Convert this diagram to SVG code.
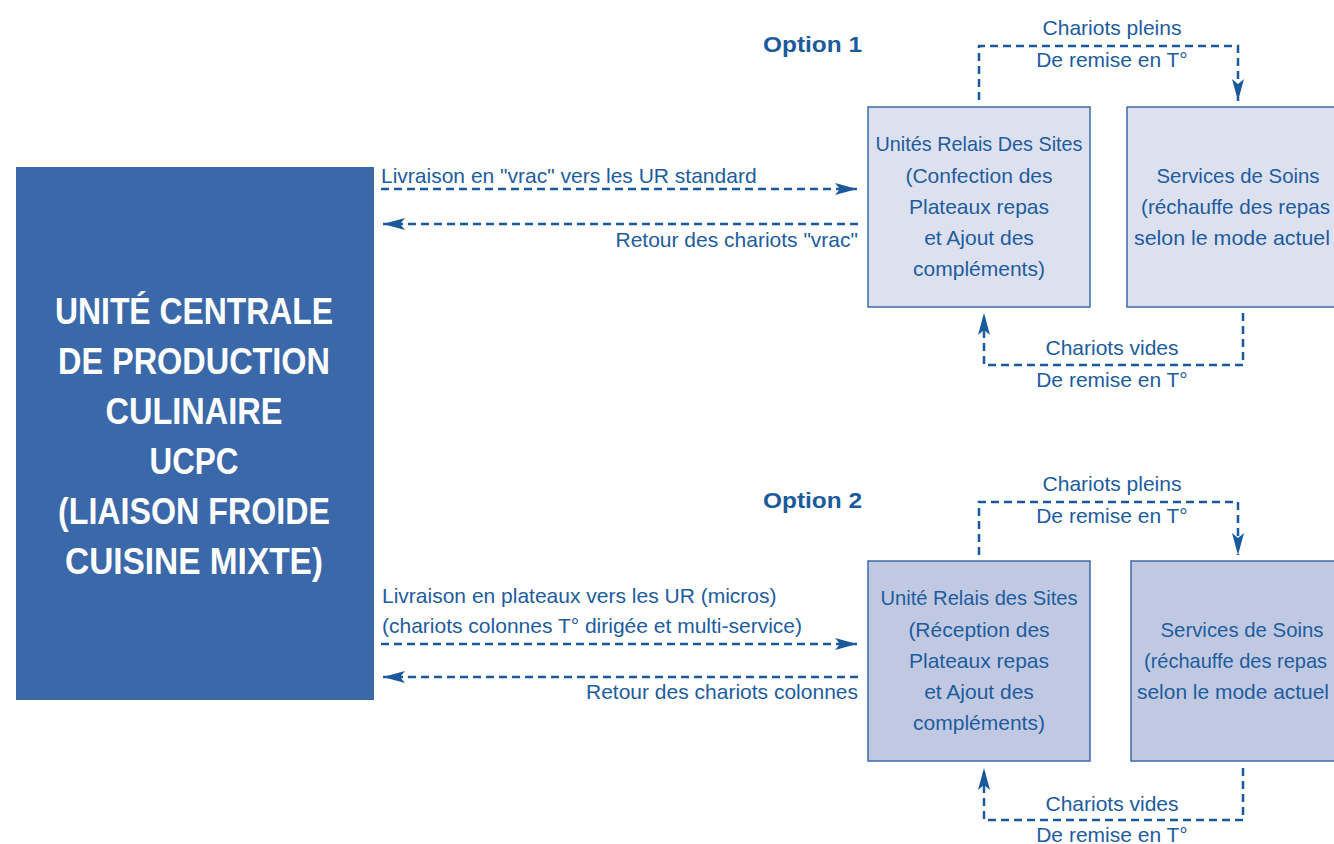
<svg xmlns="http://www.w3.org/2000/svg" width="1334" height="844" viewBox="0 0 1334 844">
<defs>
<marker id="ah" markerUnits="userSpaceOnUse" markerWidth="24" markerHeight="14" refX="22" refY="6" orient="auto">
<path d="M0,0 L22,6 L0,12 L5,6 Z" fill="#1a5a9c"/>
</marker>
<style>
.bg{fill:#ffffff}
.big{fill:#3a68a9}
.bt{font-family:"Liberation Sans",Arial,sans-serif;font-weight:bold;font-size:37px;fill:#ffffff;text-anchor:middle}
.b1{fill:#dde1ef;stroke:#3b6aa8;stroke-width:1.5}
.b2{fill:#c1c9e2;stroke:#3b6aa8;stroke-width:1.5}
.t{font-family:"Liberation Sans",Arial,sans-serif;font-size:21px;fill:#1d5c9e}
.c{text-anchor:middle}
.r{text-anchor:end}
.opt{font-family:"Liberation Sans",Arial,sans-serif;font-size:22px;font-weight:bold;fill:#1a5a9c}
.d{fill:none;stroke:#1a5a9c;stroke-width:2.5;stroke-dasharray:8 5}
.a{marker-end:url(#ah)}
</style>
</defs>
<rect class="bg" x="0" y="0" width="1334" height="844"/>

<g id="ucpc">
<rect class="big" x="16" y="167" width="358" height="533"/>
<text class="bt" x="194" y="324" textLength="278" lengthAdjust="spacingAndGlyphs">UNITÉ CENTRALE</text>
<text class="bt" x="194" y="374" textLength="272" lengthAdjust="spacingAndGlyphs">DE PRODUCTION</text>
<text class="bt" x="194" y="424" textLength="177" lengthAdjust="spacingAndGlyphs">CULINAIRE</text>
<text class="bt" x="194" y="474" textLength="89" lengthAdjust="spacingAndGlyphs">UCPC</text>
<text class="bt" x="194" y="524" textLength="272" lengthAdjust="spacingAndGlyphs">(LIAISON FROIDE</text>
<text class="bt" x="194" y="574" textLength="258" lengthAdjust="spacingAndGlyphs">CUISINE MIXTE)</text>
</g>

<g id="option1-label"><text class="opt" x="763" y="52" textLength="99" lengthAdjust="spacingAndGlyphs">Option 1</text></g>
<g id="option2-label"><text class="opt" x="763" y="508" textLength="99" lengthAdjust="spacingAndGlyphs">Option 2</text></g>

<g id="ur1">
<rect class="b1" x="868" y="107" width="222" height="200"/>
<text class="t c" x="979" y="151" textLength="207" lengthAdjust="spacingAndGlyphs">Unités Relais Des Sites</text>
<text class="t c" x="979" y="183">(Confection des</text>
<text class="t c" x="979" y="214">Plateaux repas</text>
<text class="t c" x="979" y="245">et Ajout des</text>
<text class="t c" x="979" y="276">compléments)</text>
</g>
<g id="soins1">
<rect class="b1" x="1127" y="107" width="222" height="200"/>
<text class="t c" x="1238" y="183" textLength="163" lengthAdjust="spacingAndGlyphs">Services de Soins</text>
<text class="t" x="1141" y="214" textLength="189" lengthAdjust="spacingAndGlyphs">(réchauffe des repas</text>
<text class="t" x="1134" y="245" textLength="196" lengthAdjust="spacingAndGlyphs">selon le mode actuel</text>
</g>
<g id="ur2">
<rect class="b2" x="868" y="561" width="222" height="200"/>
<text class="t c" x="979" y="605" textLength="197" lengthAdjust="spacingAndGlyphs">Unité Relais des Sites</text>
<text class="t c" x="979" y="637">(Réception des</text>
<text class="t c" x="979" y="668">Plateaux repas</text>
<text class="t c" x="979" y="699">et Ajout des</text>
<text class="t c" x="979" y="730">compléments)</text>
</g>
<g id="soins2">
<rect class="b2" x="1131" y="561" width="222" height="200"/>
<text class="t c" x="1242" y="637" textLength="163" lengthAdjust="spacingAndGlyphs">Services de Soins</text>
<text class="t" x="1144" y="668" textLength="183" lengthAdjust="spacingAndGlyphs">(réchauffe des repas</text>
<text class="t" x="1137" y="699" textLength="192" lengthAdjust="spacingAndGlyphs">selon le mode actuel</text>
</g>

<g id="connectors">
<path class="d a" d="M381,189 H857"/>
<path class="d a" d="M858,224 H383"/>
<path class="d a" d="M979,100 V46 H1238 V101"/>
<path class="d a" d="M1243,313 V365 H984 V313"/>
<path class="d a" d="M381,644 H857"/>
<path class="d a" d="M858,677 H383"/>
<path class="d a" d="M979,555 V502 H1238 V555"/>
<path class="d a" d="M1243,768 V820 H984 V768"/>
<text class="t" x="381" y="183">Livraison en "vrac" vers les UR standard</text>
<text class="t r" x="858" y="247">Retour des chariots "vrac"</text>
<text class="t c" x="1112" y="35">Chariots pleins</text>
<text class="t c" x="1112" y="67">De remise en T°</text>
<text class="t c" x="1112" y="355">Chariots vides</text>
<text class="t c" x="1112" y="387">De remise en T°</text>
<text class="t" x="382" y="603">Livraison en plateaux vers les UR (micros)</text>
<text class="t" x="382" y="633">(chariots colonnes T° dirigée et multi-service)</text>
<text class="t r" x="858" y="699">Retour des chariots colonnes</text>
<text class="t c" x="1112" y="491">Chariots pleins</text>
<text class="t c" x="1112" y="523">De remise en T°</text>
<text class="t c" x="1112" y="811">Chariots vides</text>
<text class="t c" x="1112" y="842">De remise en T°</text>
</g>
</svg>
